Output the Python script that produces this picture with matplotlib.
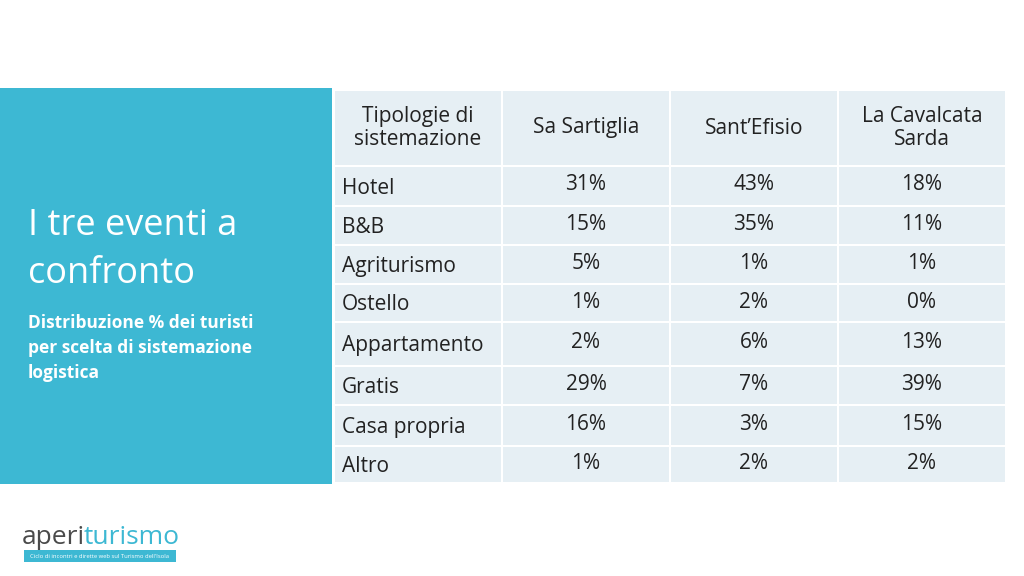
import matplotlib
matplotlib.use("Agg")
import matplotlib.pyplot as plt
from matplotlib.patches import Rectangle

headers = ["Tipologie di\nsistemazione", "Sa Sartiglia", "Sant\u2019Efisio", "La Cavalcata\nSarda"]
categories = ["Hotel", "B&B", "Agriturismo", "Ostello", "Appartamento", "Gratis", "Casa propria", "Altro"]
sartiglia = [31, 15, 5, 1, 2, 29, 16, 1]
efisio = [43, 35, 1, 2, 6, 7, 3, 2]
cavalcata = [18, 11, 1, 0, 13, 39, 15, 2]

fig = plt.figure(figsize=(10.24, 5.76), dpi=100)
ax = fig.add_axes([0, 0, 1, 1])
ax.set_xlim(0, 1024); ax.set_ylim(576, 0); ax.axis("off")

# left panel
ax.add_patch(Rectangle((0, 88), 332, 396, color="#3db8d3", lw=0))
ax.text(28, 250, "I tre eventi a\nconfronto", color="white", fontsize=26, va="center", ha="left",
        family="Open Sans", linespacing=1.45)
ax.text(28, 348, "Distribuzione % dei turisti\nper scelta di sistemazione\nlogistica", color="white",
        fontsize=12.5, fontweight="bold", va="center", ha="left", family="Open Sans", linespacing=1.5)

cols = [334, 502, 670, 838, 1006]
rows = [90, 166, 206, 245, 284, 322, 366, 405, 446, 483]
cell = "#e6eff4"
for i in range(4):
    for j in range(len(rows) - 1):
        ax.add_patch(Rectangle((cols[i] + 1, rows[j] + 1), cols[i + 1] - cols[i] - 2,
                               rows[j + 1] - rows[j] - 2, color=cell, lw=0))

fs = 15
for i, h in enumerate(headers):
    cx = (cols[i] + cols[i + 1]) / 2
    ax.text(cx, 128, h, ha="center", va="center", fontsize=fs, family="Open Sans", color="#222222",
            linespacing=1.1)
for j, cat in enumerate(categories):
    cy = (rows[j + 1] + rows[j + 2]) / 2 + 2
    ax.text(342, cy, cat, ha="left", va="center", fontsize=fs, family="Open Sans", color="#222222")
    for i, vals in enumerate([sartiglia, efisio, cavalcata]):
        cx = (cols[i + 1] + cols[i + 2]) / 2
        ax.text(cx, cy - 3, f"{vals[j]}%", ha="center", va="center", fontsize=fs, family="Open Sans",
                color="#222222")

# logo
ax.text(22, 537, "aperi", color="#4a4a4a", fontsize=19, family="Open Sans", va="center", ha="left")
ax.text(84, 537, "turismo", color="#3db8d3", fontsize=19, family="Open Sans", va="center", ha="left")
ax.add_patch(Rectangle((24, 550), 152, 12, color="#3db8d3", lw=0))
ax.text(100, 556, "Ciclo di incontri e dirette web sul Turismo dell'Isola", color="white", fontsize=4.2,
        ha="center", va="center", family="Open Sans")

fig.savefig("out.png", dpi=100)
